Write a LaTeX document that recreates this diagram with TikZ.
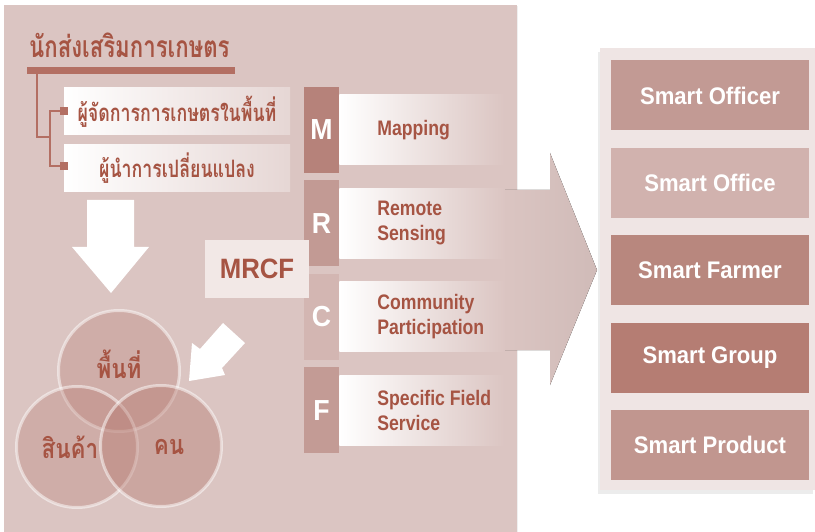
\documentclass[tikz,border=0pt]{standalone}
\usepackage{fontspec}
\setmainfont{Liberation Sans}
\newfontfamily\thaifont[Script=Thai, FakeStretch=0.83]{Loma}
\newfontfamily\thainarrow[Script=Thai, FakeStretch=0.74]{Loma}
\newfontfamily\boxfont[FakeStretch=0.92]{Liberation Sans}
\newfontfamily\labfont[FakeStretch=0.84]{Liberation Sans}
\usetikzlibrary{positioning, shadows}
\definecolor{panel}{HTML}{DBC5C2}
\definecolor{rust}{HTML}{A65443}
\definecolor{treeline}{HTML}{B36F63}
\definecolor{outpanel}{HTML}{EFE5E4}
\definecolor{mrcfbg}{HTML}{F2E8E6}
\definecolor{ringfill}{HTML}{B5786E}
\tikzset{
    rolebox/.style={left color=white, right color=panel!70!white, minimum width=226pt, minimum height=47pt, inner sep=0pt, text=rust, font=\thainarrow\bfseries\fontsize{24}{26}\selectfont},
    letterbox/.style={minimum width=35pt, minimum height=86pt, inner sep=0pt, text=white, font=\boxfont\bfseries\fontsize{29}{32}\selectfont},
    labbox/.style={left color=white, right color=panel, minimum width=165pt, minimum height=70pt, inner sep=0pt},
    labtext/.style={text=rust, align=left, inner sep=0pt, font=\labfont\bfseries\fontsize{21}{25}\selectfont},
    smartbox/.style={minimum width=198pt, minimum height=70pt, inner sep=0pt, text=white, font=\boxfont\bfseries\fontsize{24}{28}\selectfont},
    ring/.style={circle, minimum size=121pt, inner sep=0pt, draw=white, draw opacity=.5, line width=3pt, fill=ringfill, fill opacity=.3},
    ringtext/.style={inner sep=0pt, text=rust, font=\thaifont\bfseries\fontsize{27}{30}\selectfont},
    dot/.style={fill=treeline, minimum size=8pt, inner sep=0pt},
    tree/.style={draw=treeline, line width=2pt}
}

\begin{document}
\begin{tikzpicture}[x=1pt, y=-1pt, node distance=7pt]
	\useasboundingbox (0,0) rectangle (815,532);
	\fill[white] (0,0) rectangle (815,532);
	\fill[panel, drop shadow={shadow xshift=1pt, shadow yshift=-1pt, opacity=.12}] (4,5) rectangle (517,532);
	\fill[left color=panel, right color=panel!95!black] (500,190) -- (550,190) -- (550,153) -- (597,270) -- (550,385) -- (550,350) -- (500,350) -- cycle;

	\node(Outcomes)[fill=outpanel, minimum width=215pt, minimum height=442pt, inner sep=0pt, drop shadow={shadow xshift=-2pt, shadow yshift=-4pt, opacity=.15}] at (707.5,269){};
	\node(Officer)[smartbox, fill={rgb,255:red,194;green,154;blue,148}] at (710,95.5){Smart Officer};
	\node(Office)[smartbox, fill={rgb,255:red,209;green,178;blue,174}, below=17pt of Officer]{Smart Office};
	\node(Farmer)[smartbox, fill={rgb,255:red,184;green,135;blue,126}, below=17pt of Office]{Smart Farmer};
	\node(Group)[smartbox, fill={rgb,255:red,181;green,125;blue,115}, below=17pt of Farmer]{Smart Group};
	\node(Product)[smartbox, fill={rgb,255:red,193;green,150;blue,143}, below=17pt of Group]{Smart Product};

	\node(Title)[anchor=base west, inner sep=0pt, text=rust, font=\thainarrow\bfseries\fontsize{30}{32}\selectfont] at (29,58){นักส่งเสริมการเกษตร};
	\node(Bar)[fill=treeline, minimum width=208pt, minimum height=7pt, inner sep=0pt] at (131,70.5){};
	\node(Role1)[rolebox] at (177,111.5){ผู้จัดการการเกษตรในพื้นที่};
	\node(Role2)[rolebox, below=9pt of Role1]{ผู้นำการเปลี่ยนแปลง};
	\node(Dot1)[dot] at (64,111){};
	\node(Dot2)[dot] at (64,166){};
	\coordinate(Fork) at (50,137);
	\draw[tree] ([xshift=10pt]Bar.south west) |- (Fork);
	\draw[tree] (Dot1.west) -| (Fork) |- (Dot2.west);

	\node(M)[letterbox, fill={rgb,255:red,182;green,130;blue,122}] at (321.5,130){M};
	\node(R)[letterbox, fill={rgb,255:red,194;green,154;blue,148}, below=of M]{R};
	\node(C)[letterbox, fill={rgb,255:red,211;green,182;blue,178}, below=of R]{C};
	\node(F)[letterbox, fill={rgb,255:red,195;green,155;blue,149}, below=of C]{F};
	\node(Mlab)[labbox, right=0pt of M]{};
	\node(Rlab)[labbox, right=0pt of R]{};
	\node(Clab)[labbox, right=0pt of C]{};
	\node(Flab)[labbox, right=0pt of F]{};
	\node(Mtext)[labtext, anchor=west] at ([xshift=38pt]Mlab.west){Mapping};
	\node(Rtext)[labtext, anchor=west] at ([xshift=38pt]Rlab.west){Remote\\Sensing};
	\node(Ctext)[labtext, anchor=west] at ([xshift=38pt]Clab.west){Community\\Participation};
	\node(Ftext)[labtext, anchor=west] at ([xshift=38pt]Flab.west){Specific Field\\Service};
	\node(Mrcf)[fill=mrcfbg, minimum width=104pt, minimum height=58pt, inner sep=0pt, text=rust, font=\boxfont\bfseries\fontsize{28}{32}\selectfont] at (257,269){MRCF};

	\fill[white] (87,200) -- (134,200) -- (134,247) -- (149,247) -- (111,293) -- (72,247) -- (87,247) -- cycle;
	\fill[white] (189,381) -- (192,343) -- (200,349) -- (223,323) -- (245,343) -- (222,368) -- (225,375) -- cycle;

	\node(Area)[ring] at (119,371){};
	\node(Goods)[ring] at (77,447){};
	\node(People)[ring, fill opacity=.4] at (161,446){};
	\node(AreaText)[ringtext] at (119,364){พื้นที่};
	\node(GoodsText)[ringtext] at (70,447){สินค้า};
	\node(PeopleText)[ringtext] at (169,447){คน};
\end{tikzpicture}
\end{document}
